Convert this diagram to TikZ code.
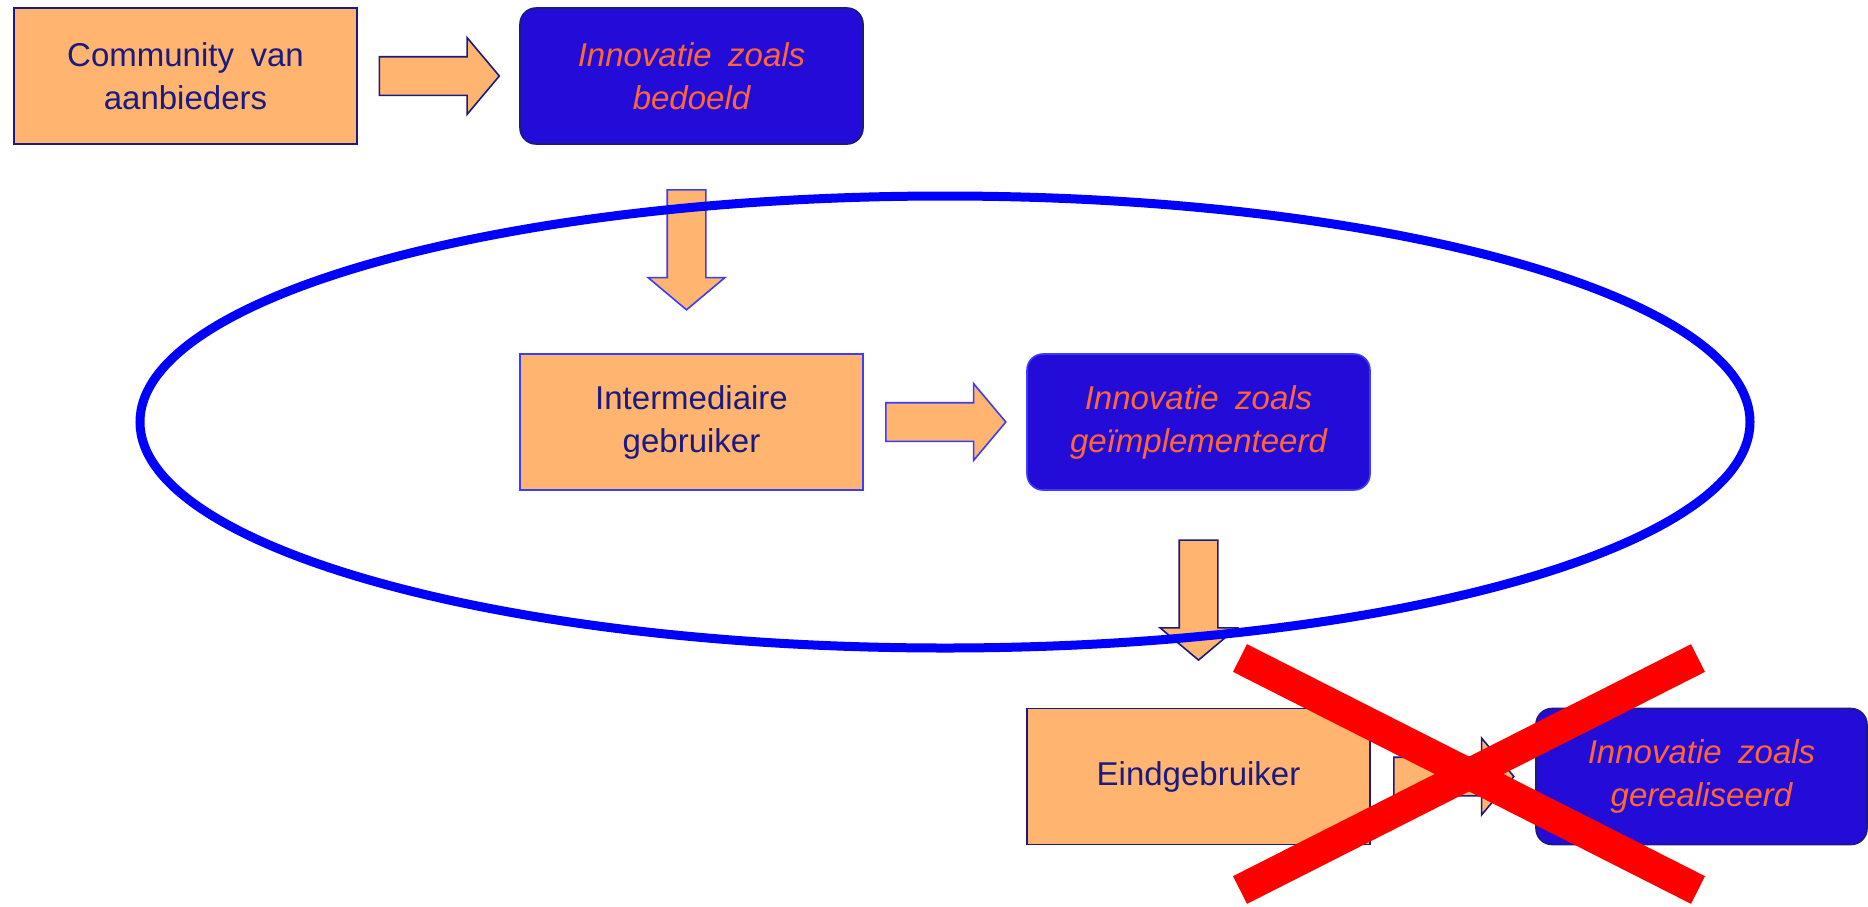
\documentclass[tikz,border=0pt]{standalone}
\usepackage{fontspec}
\setmainfont{Liberation Sans}
\usetikzlibrary{shapes.arrows,calc}

\definecolor{peach}{RGB}{255,180,112}
\definecolor{navy}{RGB}{26,26,128}
\definecolor{indigo}{RGB}{36,12,216}
\definecolor{tangerine}{RGB}{255,102,51}
\definecolor{vivid}{RGB}{60,60,255}

\newcommand{\wsp}{\hspace{0.5em}}

\begin{document}
\begin{tikzpicture}[x=1pt,y=-1pt,
	actor/.style={draw=navy,line width=1.6pt,fill=peach,text=navy,minimum width=343pt,minimum height=136pt,inner sep=0pt,align=center,font=\fontsize{33}{43}\selectfont},
	result/.style={actor,fill=indigo,text=tangerine,rounded corners=16pt,font=\fontsize{33}{43}\selectfont\itshape},
	barrow/.style={single arrow,draw=navy,line width=1.6pt,fill=peach,minimum height=120pt,inner xsep=0pt,inner ysep=18.5pt,single arrow head extend=19pt,single arrow tip angle=100,anchor=tail},
	cross/.style={red,line width=31pt}]
	\useasboundingbox (0,0) rectangle (1868,906);
	\node[actor] (com) at (185.5,76) {Community\wsp van\\aanbieders};
	\node[result] (bed) at (691.5,76) {Innovatie\wsp zoals\\bedoeld};
	\node[actor,draw=vivid] (int) at (691.5,422) {Intermediaire\\gebruiker};
	\node[result,draw=vivid] (gei) at (1198.5,422) {Innovatie\wsp zoals\\geïmplementeerd};
	\node[actor] (eind) at (1198.5,776.5) {Eindgebruiker};
	\node[result,minimum width=331pt] (ger) at (1701.5,776.5) {Innovatie\wsp zoals\\gerealiseerd};
	\node[barrow] (a1) at ($(com.east)!.5!(bed.west)+(-60,0)$) {};
	\node[barrow,draw=vivid,rotate=-90] (a2) at ($(bed.south)!.5!(int.north)+(-5,-60)$) {};
	\node[barrow,draw=vivid] (a3) at ($(int.east)!.5!(gei.west)+(-60,0)$) {};
	\node[barrow,rotate=-90] (a4) at ($(gei.south)!.5!(eind.north)+(0,-60)$) {};
	\node[barrow] (a5) at ($(eind.east)!.5!(ger.west)+(-60,0)$) {};
	\draw[blue,line width=9pt] ($(int)!.5!(gei)$) ellipse [x radius=805pt,y radius=226pt];
	\draw[cross] (1240,658) -- (1698,890);
	\draw[cross] (1698,658) -- (1240,890);
\end{tikzpicture}
\end{document}
